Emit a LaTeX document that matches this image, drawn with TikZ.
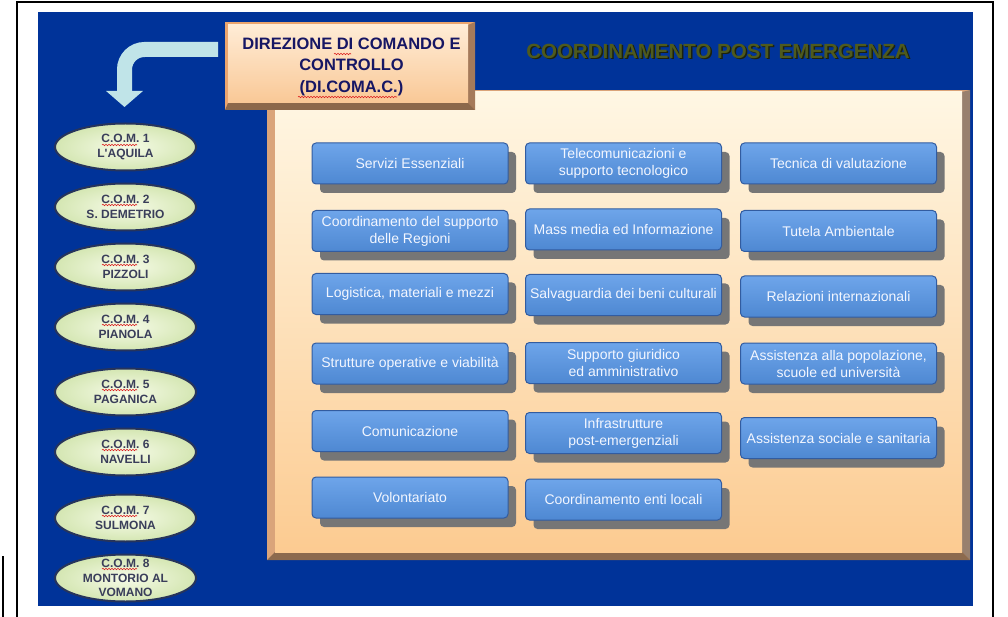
\documentclass[tikz,border=0pt]{standalone}
\usepackage{fontspec}
\setmainfont{Liberation Sans}
\usepackage{xcolor}
\definecolor{bgblue}{RGB}{0,51,153}
\definecolor{olive}{RGB}{78,90,30}
\definecolor{oliveshadow}{RGB}{28,34,12}
\definecolor{navy}{RGB}{22,22,100}
\definecolor{comin}{RGB}{246,251,232}
\definecolor{comout}{RGB}{212,230,178}
\definecolor{comedge}{RGB}{38,52,92}
\definecolor{comink}{RGB}{58,62,90}
\definecolor{btntop}{RGB}{110,165,234}
\definecolor{btnbottom}{RGB}{78,136,210}
\definecolor{btnedge}{RGB}{50,92,160}
\definecolor{btnink}{RGB}{242,246,255}
\definecolor{btnshadow}{RGB}{118,118,118}
\definecolor{arrowblue}{RGB}{192,228,232}
\definecolor{paneltop}{RGB}{255,247,228}
\definecolor{panelbottom}{RGB}{252,203,145}
\definecolor{panelleft}{RGB}{218,164,122}
\definecolor{panelright}{RGB}{152,128,110}
\definecolor{panelfoot}{RGB}{140,106,78}
\definecolor{boxtop}{RGB}{255,236,214}
\definecolor{boxbottom}{RGB}{249,200,150}
\definecolor{boxlight}{RGB}{235,165,110}
\definecolor{boxright}{RGB}{165,122,90}
\definecolor{boxfoot}{RGB}{140,104,75}
\definecolor{spellred}{RGB}{220,30,30}
\usepackage{tikz}
\usetikzlibrary{positioning,shapes.geometric,arrows.meta,shadows,decorations.pathmorphing}
% #1 name, #2 y, #3 offset of the red underline, #4 text
\newcommand{\comnode}[4]{
    \node (#1) at (125.5,#2) [com, label={[comlabel]center:#4}] {};
    \draw[spell] ([shift={(-23.5,#3)}]#1.center) -- ++(35,0);
}
\tikzstyle{task} = [
    rectangle, rounded corners=4, minimum width=196, minimum height=41,
    inner sep=1, top color=btntop, bottom color=btnbottom,
    draw=btnedge, line width=1, text=btnink, align=center,
    font=\fontsize{14}{17}\selectfont,
    drop shadow={shadow xshift=8pt, shadow yshift=-9pt, fill=btnshadow, opacity=1},
]
\tikzstyle{com} = [
    ellipse, minimum width=141, minimum height=47, inner sep=0,
    inner color=comin, outer color=comout, draw=comedge, line width=2,
]
\tikzstyle{comlabel} = [
    align=center, text=comink, inner sep=0,
    font=\fontsize{12}{14.5}\selectfont\bfseries,
]
\tikzstyle{dicomtext} = [
    inner sep=0, text=navy, align=center,
    font=\fontsize{16.5}{21.5}\selectfont\bfseries,
]
\tikzstyle{heading} = [font=\fontsize{20.5}{24}\selectfont\bfseries, inner sep=0]
\tikzstyle{spell} = [spellred, line width=0.6, decorate,
    decoration={snake, amplitude=0.7, segment length=3}]
\tikzstyle{bendarrow} = [line width=15, color=arrowblue, rounded corners=20,
    -{Triangle[width=36pt,length=16pt]}]

\begin{document}
\begin{tikzpicture}[x=1pt,y=-1pt]
    \useasboundingbox (0,0) rectangle (1008,617);
    % page frame
    \draw[line width=1.6] (17,617) -- (17,2) -- (993,2) -- (993,617);
    \draw[line width=1.6] (3,556) -- (3,617);
    \fill[bgblue] (38,12) rectangle (973,606);

    % panel with bevel
    \fill[panelleft] (267,90) rectangle (970,560);
    \fill[panelright] (962,92) -- (970,90) -- (970,560) -- (962,552) -- cycle;
    \fill[panelfoot] (275,552) -- (962,552) -- (970,560) -- (267,560) -- cycle;
    \shade[top color=paneltop, bottom color=panelbottom] (275,92) rectangle (962,552);

    % title box with bevel
    \fill[boxlight] (225,22) rectangle (475,110);
    \fill[boxright] (468,25) -- (475,22) -- (475,110) -- (468,103) -- cycle;
    \fill[boxfoot] (228,103) -- (468,103) -- (475,110) -- (225,110) -- cycle;
    \shade[top color=boxtop, bottom color=boxbottom] (228,25) rectangle (468,103);
    \node (dicom) at (351.5,66.5) [dicomtext] {DIREZIONE DI COMANDO E\\CONTROLLO\\(DI.COMA.C.)};
    \draw[spell] (334,54) -- ++(17,0);
    \draw[spell] (298,97) -- ++(99,0);

    \node (headshadow) at (719.5,52.5) [heading, text=oliveshadow] {COORDINAMENTO POST EMERGENZA};
    \node (head) at (718,51) [heading, text=olive] {COORDINAMENTO POST EMERGENZA};

    % C.O.M. centres
    \comnode{com1}{147}{-2}{C.O.M. 1\\L\textquotesingle AQUILA}
    \comnode{com2}{207}{-2}{C.O.M. 2\\S. DEMETRIO}
    \comnode{com3}{267}{-2}{C.O.M. 3\\PIZZOLI}
    \comnode{com4}{327}{-2}{C.O.M. 4\\PIANOLA}
    \comnode{com5}{392}{-2}{C.O.M. 5\\PAGANICA}
    \comnode{com6}{452}{-2}{C.O.M. 6\\NAVELLI}
    \comnode{com7}{518}{-2}{C.O.M. 7\\SULMONA}
    \comnode{com8}{578}{-9}{C.O.M. 8\\MONTORIO AL\\VOMANO}

    \coordinate (arrowfrom) at (218,49.5);
    \coordinate (arrowto) at ([shift={(-1,-15.5)}]com1.north);
    \draw[bendarrow] (arrowfrom) -| (arrowto);

    % functions
    \node (f1) at (410,163.5) [task] {Servizi Essenziali};
    \node (f2) at (410,231) [task] {Coordinamento del supporto\\delle Regioni};
    \node (f3) at (410,294) [task] {Logistica, materiali e mezzi};
    \node (f4) at (410,363.5) [task] {Strutture operative e viabilità};
    \node (f5) at (410,431) [task] {Comunicazione};
    \node (f6) at (410,497.5) [task] {Volontariato};

    \node (f7) at (623.5,163.5) [task] {Telecomunicazioni e\\supporto tecnologico};
    \node (f8) at (623.5,229.5) [task] {Mass media ed Informazione};
    \node (f9) at (623.5,295) [task] {Salvaguardia dei beni culturali};
    \node (f10) at (623.5,363) [task] {Supporto giuridico\\ed amministrativo};
    \node (f11) at (623.5,433) [task] {Infrastrutture\\post-emergenziali};
    \node (f12) at (623.5,499.5) [task] {Coordinamento enti locali};

    \node (f13) at (838.5,163.5) [task] {Tecnica di valutazione};
    \node (f14) at (838.5,231) [task] {Tutela Ambientale};
    \node (f15) at (838.5,296.5) [task] {Relazioni internazionali};
    \node (f16) at (838.5,363.5) [task] {Assistenza alla popolazione,\\scuole ed università};
    \node (f17) at (838.5,438) [task] {Assistenza sociale e sanitaria};

\end{tikzpicture}
\end{document}
